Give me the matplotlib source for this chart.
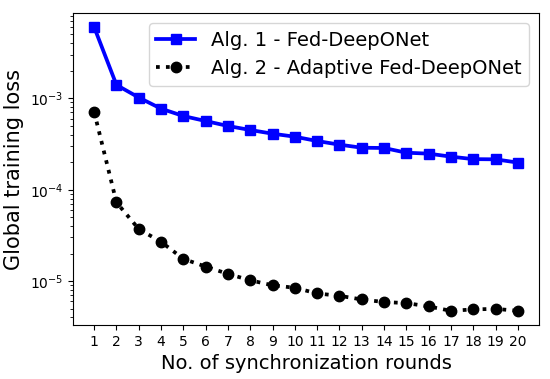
import matplotlib
matplotlib.use("Agg")
import matplotlib.pyplot as plt

rounds = list(range(1, 21))
fed_deeponet = [6.0e-3, 1.40e-3, 1.02e-3, 7.7e-4, 6.4e-4, 5.64e-4, 4.98e-4, 4.5e-4, 4.1e-4, 3.8e-4,
                3.41e-4, 3.11e-4, 2.88e-4, 2.86e-4, 2.54e-4, 2.48e-4, 2.3e-4, 2.16e-4, 2.15e-4, 1.98e-4]
adaptive_fed_deeponet = [7.08e-4, 7.26e-5, 3.71e-5, 2.69e-5, 1.75e-5, 1.44e-5, 1.2e-5, 1.02e-5, 9.0e-6, 8.45e-6,
                         7.33e-6, 6.9e-6, 6.3e-6, 5.9e-6, 5.75e-6, 5.28e-6, 4.73e-6, 4.9e-6, 4.97e-6, 4.73e-6]
labels = ["Alg. 1 - Fed-DeepONet", "Alg. 2 - Adaptive Fed-DeepONet"]

fig = plt.figure(figsize=(5.5, 3.79), dpi=100)
ax = fig.add_axes([73/550, 1 - 325/379, (539-73)/550, (325-13)/379])
ax.plot(rounds, fed_deeponet, color="blue", marker="s", linewidth=2.7, markersize=7.5, label=labels[0])
ax.plot(rounds, adaptive_fed_deeponet, color="black", marker="o", linestyle=":", linewidth=2.7, markersize=7.5, label=labels[1])
ax.set_yscale("log")
ax.set_xticks(rounds)
ax.tick_params(labelsize=10)
ax.set_xlabel("No. of synchronization rounds", fontsize=14)
ax.set_ylabel("Global training loss", fontsize=15)
ax.legend(loc="upper right", fontsize=14)
fig.savefig("out.png", dpi=100)
